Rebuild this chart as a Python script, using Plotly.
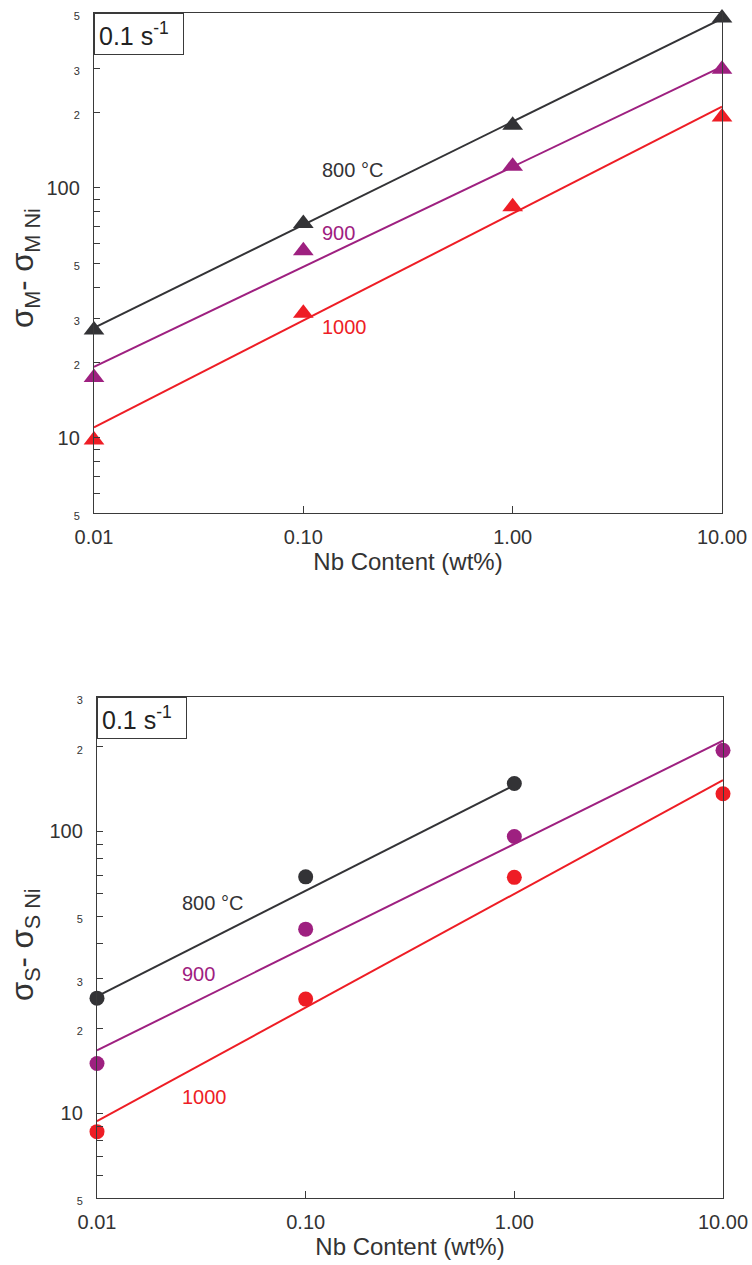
import plotly.graph_objects as go
import math

# ---------------- data ----------------
nb = [0.01, 0.1, 1, 10]
nb_800_bot = [0.01, 0.1, 1]

# top: sigma_M - sigma_M Ni (triangles)
m_800 = [27, 72, 178, 478]
m_900 = [17.4, 56, 122, 298]
m_1000 = [9.8, 31.5, 84, 192]
fit_x_top = [0.01, 10]
m_fit_800 = [27.5, 475]
m_fit_900 = [19.2, 305]
m_fit_1000 = [11, 211]

# bottom: sigma_S - sigma_S Ni (circles)
s_800 = [25.6, 69, 148]
s_900 = [15, 45, 96, 194]
s_1000 = [8.6, 25.4, 68.7, 136]
fit_x_800_bot = [0.01, 1]
fit_x_bot = [0.01, 10]
s_fit_800 = [26, 146]
s_fit_900 = [16.7, 210]
s_fit_1000 = [9.37, 152]

x_tickvals = [0.01, 0.1, 1, 10]
x_ticktext = ["0.01", "0.10", "1.00", "10.00"]

top_tickvals = [5, 10, 20, 30, 50, 100, 200, 300, 500]
top_ticklabels = ["5", "10", "2", "3", "5", "100", "2", "3", "5"]
top_minor = [6, 7, 8, 9, 40, 60, 70, 80, 90, 400]
bot_tickvals = [5, 10, 20, 30, 50, 100, 200, 300]
bot_ticklabels = ["5", "10", "2", "3", "5", "100", "2", "3"]
bot_minor = [6, 7, 8, 9, 40, 60, 70, 80, 90]

BLACK = "#333336"
PURPLE = "#9e2080"
RED = "#ee1d25"
AXC = "#3a3a3a"
FONT = "Liberation Sans, Arial, sans-serif"

W, H = 752, 1265
fig = go.Figure()

def add_series(xs, ys, fx, fy, color, symbol, xa, ya):
    fig.add_trace(go.Scatter(x=fx, y=fy, mode="lines", line=dict(color=color, width=2),
                             xaxis=xa, yaxis=ya, showlegend=False, cliponaxis=False))
    fig.add_trace(go.Scatter(x=xs, y=ys, mode="markers",
                             marker=dict(symbol=symbol, size=18 if symbol == "triangle-up" else 15,
                                         color=color, line=dict(width=0)),
                             xaxis=xa, yaxis=ya, showlegend=False, cliponaxis=False))

add_series(nb, m_800, fit_x_top, m_fit_800, BLACK, "triangle-up", "x", "y")
add_series(nb, m_900, fit_x_top, m_fit_900, PURPLE, "triangle-up", "x", "y")
add_series(nb, m_1000, fit_x_top, m_fit_1000, RED, "triangle-up", "x", "y")

add_series(nb_800_bot, s_800, fit_x_800_bot, s_fit_800, BLACK, "circle", "x2", "y2")
add_series(nb, s_900, fit_x_bot, s_fit_900, PURPLE, "circle", "x2", "y2")
add_series(nb, s_1000, fit_x_bot, s_fit_1000, RED, "circle", "x2", "y2")

top_dom = [1 - 513 / H, 1 - 13 / H]
bot_dom = [1 - 1198 / H, 1 - 697 / H]

def styled(labels, vals):
    out = []
    for t, v in zip(labels, vals):
        if v in (10, 100):
            out.append(t)
        else:
            out.append('<span style="font-size:11px">' + t + '</span>')
    return out

def xax(dom, anchor):
    return dict(type="log", range=[-2, 1], domain=dom, anchor=anchor, automargin=False,
                tickvals=x_tickvals, ticktext=x_ticktext, ticks="inside", ticklen=7,
                tickcolor=AXC, tickwidth=1, showline=True, linecolor=AXC, linewidth=1.3,
                mirror=True, showgrid=False, zeroline=False, ticklabelstandoff=6,
                tickfont=dict(size=20, color="#333", family=FONT),
                title=dict(text="Nb Content (wt%)", font=dict(size=24, color="#333", family=FONT),
                           standoff=3))

def yax(dom, anchor, rng, vals, labels, minor_vals):
    return dict(type="log", range=rng, domain=dom, anchor=anchor, automargin=False,
                tickvals=vals, ticktext=styled(labels, vals), ticks="inside", ticklen=6,
                tickcolor=AXC, tickwidth=1, showline=True, linecolor=AXC, linewidth=1.3,
                mirror=True, showgrid=False, zeroline=False, ticklabelstandoff=9,
                minor=dict(tickvals=minor_vals, ticks="inside", ticklen=6, tickcolor=AXC,
                           tickwidth=1, showgrid=False),
                tickfont=dict(size=20, color="#333", family=FONT))

top_rng = [math.log10(5), math.log10(500)]
bot_rng = [math.log10(5), math.log10(300)]

fig.update_layout(
    width=W, height=H, autosize=False, margin=dict(l=0, r=0, t=0, b=0, pad=0),
    paper_bgcolor="white", plot_bgcolor="white",
    font=dict(family=FONT, color="#333"),
    xaxis=xax([94 / W, 722 / W], "y"),
    yaxis=yax(top_dom, "x", top_rng, top_tickvals, top_ticklabels, top_minor),
    xaxis2=xax([97 / W, 723 / W], "y2"),
    yaxis2=yax(bot_dom, "x2", bot_rng, bot_tickvals, bot_ticklabels, bot_minor),
)

annots = []
# rate boxes
for xr, yr in [("x domain", "y domain"), ("x2 domain", "y2 domain")]:
    annots.append(dict(text="0.1 s<sup>-1</sup>", xref=xr, yref=yr, x=0, y=1,
                       xanchor="left", yanchor="top", showarrow=False, align="left",
                       width=80, font=dict(size=25, color="#222", family=FONT),
                       bordercolor=AXC, borderwidth=1, borderpad=4, bgcolor="white"))
# series labels
for txt, x, y, c, xr, yr in [
    ("800 °C", 0.12, 118, BLACK, "x", "y"),
    ("900", 0.12, 66, PURPLE, "x", "y"),
    ("1000", 0.12, 27.8, RED, "x", "y"),
    ("800 °C", 0.025, 55.6, BLACK, "x2", "y2"),
    ("900", 0.025, 31.3, PURPLE, "x2", "y2"),
    ("1000", 0.025, 11.4, RED, "x2", "y2"),
]:
    annots.append(dict(text=txt, x=math.log10(x), y=math.log10(y), xref=xr, yref=yr,
                       xanchor="left", yanchor="middle", showarrow=False,
                       font=dict(size=20, color=c, family=FONT)))
# y titles
annots.append(dict(text="σ<sub>M</sub>- σ<sub>M Ni</sub>", xref="paper", yref="paper",
                   x=25 / W, y=1 - 268 / H, textangle=-90, showarrow=False,
                   xanchor="center", yanchor="middle",
                   font=dict(size=31, color="#333", family=FONT)))
annots.append(dict(text="σ<sub>S</sub>- σ<sub>S Ni</sub>", xref="paper", yref="paper",
                   x=25 / W, y=1 - 945 / H, textangle=-90, showarrow=False,
                   xanchor="center", yanchor="middle",
                   font=dict(size=31, color="#333", family=FONT)))
fig.update_layout(annotations=annots)

fig.write_html("out.html")
